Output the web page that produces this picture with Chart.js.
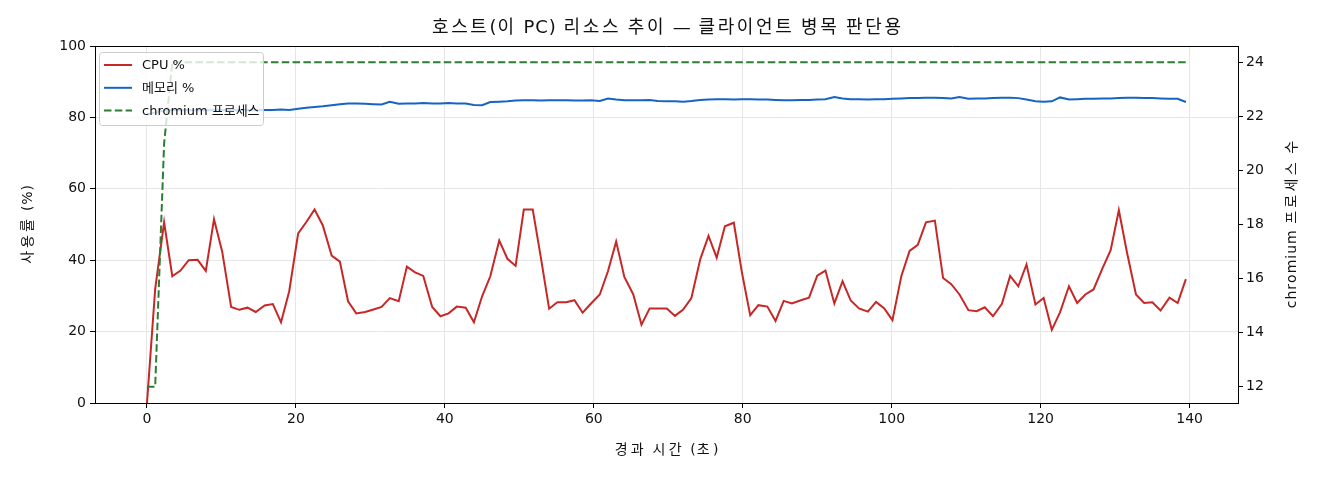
<!DOCTYPE html>
<html lang="ko">
<head>
<meta charset="utf-8">
<title>호스트 리소스 추이</title>
<script src="https://cdn.jsdelivr.net/npm/chart.js@4"></script>
<style>
    html, body { margin: 0; padding: 0; background: #fff; }
    #wrap { width: 1320px; height: 480px; position: relative; }
</style>
</head>
<body>
<div id="wrap"><canvas id="host-chart"></canvas></div>
<script>
// Host resource trend

// elapsed seconds of each sample
const times = [
    0, 1.1, 2.3, 3.4, 4.5, 5.6, 6.8, 7.9, 9.0, 10.1,
    11.3, 12.4, 13.5, 14.6, 15.8, 16.9, 18.0, 19.1, 20.3, 21.4,
    22.5, 23.6, 24.8, 25.9, 27.0, 28.1, 29.3, 30.4, 31.5, 32.6,
    33.8, 34.9, 36.0, 37.1, 38.3, 39.4, 40.5, 41.6, 42.8, 43.9,
    45.0, 46.1, 47.3, 48.4, 49.5, 50.6, 51.8, 52.9, 54.0, 55.1,
    56.3, 57.4, 58.5, 59.6, 60.8, 61.9, 63.0, 64.1, 65.3, 66.4,
    67.5, 68.6, 69.8, 70.9, 72.0, 73.1, 74.3, 75.4, 76.5, 77.6,
    78.8, 79.9, 81.0, 82.1, 83.3, 84.4, 85.5, 86.6, 87.8, 88.9,
    90.0, 91.1, 92.3, 93.4, 94.5, 95.6, 96.8, 97.9, 99.0, 100.1,
    101.3, 102.4, 103.5, 104.6, 105.8, 106.9, 108.0, 109.1, 110.3, 111.4,
    112.5, 113.6, 114.8, 115.9, 117.0, 118.1, 119.3, 120.4, 121.5, 122.6,
    123.8, 124.9, 126.0, 127.1, 128.3, 129.4, 130.5, 131.6, 132.8, 133.9,
    135.0, 136.1, 137.3, 138.4, 139.5
];

const cpuPercent = [
    0, 31.9, 50.6, 35.5, 37.1, 40.0, 40.1, 37.0, 51.5, 42.4,
    26.9, 26.1, 26.7, 25.5, 27.3, 27.7, 22.6, 31.3, 47.5, 50.7,
    54.2, 49.8, 41.3, 39.6, 28.5, 25.1, 25.5, 26.2, 26.9, 29.4,
    28.5, 38.2, 36.6, 35.6, 26.9, 24.3, 25.1, 27.0, 26.7, 22.6,
    29.9, 35.5, 45.5, 40.4, 38.4, 54.2, 54.2, 40.6, 26.4, 28.2,
    28.2, 28.8, 25.3, 27.8, 30.4, 36.9, 45.2, 35.3, 30.4, 21.9,
    26.5, 26.5, 26.5, 24.4, 26.2, 29.4, 40.3, 46.8, 40.7, 49.5,
    50.5, 36.4, 24.6, 27.4, 27.0, 23.0, 28.6, 27.9, 28.8, 29.5,
    35.7, 37.1, 27.9, 34.1, 28.7, 26.5, 25.6, 28.3, 26.5, 23.2,
    35.6, 42.6, 44.3, 50.6, 51.1, 35.0, 33.3, 30.4, 26.0, 25.7,
    26.8, 24.3, 27.8, 35.6, 32.7, 38.8, 27.6, 29.4, 20.5, 25.4,
    32.7, 28.0, 30.4, 31.8, 37.7, 42.8, 54.0, 42.1, 30.4, 28.0,
    28.2, 25.9, 29.5, 28.0, 34.7
];

const memPercent = [
    80.8, 81.4, 81.9, 82.0, 82.1, 82.0, 82.0, 82.1, 82.0, 82.0,
    82.1, 82.0, 82.1, 82.0, 82.1, 82.1, 82.2, 82.1, 82.4, 82.7,
    82.9, 83.1, 83.4, 83.7, 83.9, 83.9, 83.8, 83.7, 83.6, 84.4,
    83.8, 83.9, 83.9, 84.0, 83.9, 83.9, 84.0, 83.9, 83.9, 83.5,
    83.4, 84.3, 84.4, 84.5, 84.7, 84.8, 84.8, 84.7, 84.8, 84.8,
    84.8, 84.7, 84.7, 84.8, 84.6, 85.3, 85.0, 84.8, 84.8, 84.8,
    84.9, 84.6, 84.5, 84.5, 84.4, 84.6, 84.9, 85.0, 85.1, 85.1,
    85.0, 85.1, 85.1, 85.0, 85.0, 84.9, 84.8, 84.8, 84.9, 84.9,
    85.0, 85.1, 85.7, 85.3, 85.1, 85.1, 85.0, 85.1, 85.1, 85.2,
    85.3, 85.4, 85.4, 85.5, 85.5, 85.4, 85.3, 85.7, 85.2, 85.3,
    85.3, 85.4, 85.5, 85.5, 85.4, 85.0, 84.5, 84.4, 84.5, 85.6,
    85.0, 85.1, 85.2, 85.2, 85.3, 85.3, 85.4, 85.5, 85.5, 85.4,
    85.4, 85.3, 85.2, 85.2, 84.3
];

const chromiumCount = [
    12, 12, 21, 24, 24, 24, 24, 24, 24, 24,
    24, 24, 24, 24, 24, 24, 24, 24, 24, 24,
    24, 24, 24, 24, 24, 24, 24, 24, 24, 24,
    24, 24, 24, 24, 24, 24, 24, 24, 24, 24,
    24, 24, 24, 24, 24, 24, 24, 24, 24, 24,
    24, 24, 24, 24, 24, 24, 24, 24, 24, 24,
    24, 24, 24, 24, 24, 24, 24, 24, 24, 24,
    24, 24, 24, 24, 24, 24, 24, 24, 24, 24,
    24, 24, 24, 24, 24, 24, 24, 24, 24, 24,
    24, 24, 24, 24, 24, 24, 24, 24, 24, 24,
    24, 24, 24, 24, 24, 24, 24, 24, 24, 24,
    24, 24, 24, 24, 24, 24, 24, 24, 24, 24,
    24, 24, 24, 24, 24
];

const seriesLabels = ['CPU %', '메모리 %', 'chromium 프로세스'];
const chartTitle = '호스트(이 PC) 리소스 추이 — 클라이언트 병목 판단용';
const xTitle = '경과 시간 (초)';
const yTitle = '사용률 (%)';
const y2Title = 'chromium 프로세스 수';

// latin glyphs from DejaVu, hangul falls back to Noto CJK
const FONT = "'DejaVu Sans', 'Noto Sans CJK KR', sans-serif";
const COLORS = {
    cpu: '#c62828',
    mem: '#1565c0',
    chromium: '#2e7d32',
    grid: '#e6e6e6',
    text: '#111111'
};

Chart.defaults.font.family = FONT;
Chart.defaults.color = COLORS.text;

function toPoints(values) {
    return values.map((v, i) => ({ x: times[i], y: v }));
}

function isHangul(ch) {
    const c = ch.charCodeAt(0);
    return c >= 0xAC00 && c <= 0xD7A3;
}

// the reference font sets hangul wider than Noto CJK, so hangul gets extra room
function spacedText(ctx, text, x, y, size, hangulGap, otherGap, angle) {
    ctx.save();
    ctx.translate(x, y);
    if (angle) ctx.rotate(angle);
    ctx.font = size + 'px ' + FONT;
    ctx.fillStyle = COLORS.text;
    ctx.textAlign = 'left';
    ctx.textBaseline = 'middle';

    const chars = Array.from(text);
    const widths = chars.map((ch, i) => {
        const gap = i === chars.length - 1 ? 0 : (isHangul(ch) ? hangulGap : otherGap);
        return ctx.measureText(ch).width + gap;
    });
    let cx = -widths.reduce((a, b) => a + b, 0) / 2;
    chars.forEach((ch, i) => {
        ctx.fillText(ch, cx, 0);
        cx += widths[i];
    });
    ctx.restore();
}

// matplotlib style legend box inside the plot, drawn above the lines
const boxLegend = {
    id: 'boxLegend',
    afterDatasetsDraw(chart) {
        const { ctx, chartArea } = chart;
        const x = chartArea.left + 4;
        const y = chartArea.top + 6;
        const w = 164;
        const h = 73;

        ctx.save();
        ctx.beginPath();
        ctx.roundRect(x + 0.5, y + 0.5, w, h, 3);
        ctx.fillStyle = 'rgba(255,255,255,0.8)';
        ctx.fill();
        ctx.strokeStyle = '#cccccc';
        ctx.lineWidth = 1;
        ctx.stroke();

        ctx.font = '13px ' + FONT;
        ctx.textBaseline = 'middle';
        ctx.textAlign = 'left';
        chart.data.datasets.forEach((ds, i) => {
            const rowY = y + 13 + i * 22.8;
            ctx.beginPath();
            ctx.setLineDash(ds.borderDash || []);
            ctx.strokeStyle = ds.borderColor;
            ctx.lineWidth = 2;
            ctx.moveTo(x + 5, rowY);
            ctx.lineTo(x + 33, rowY);
            ctx.stroke();
            ctx.setLineDash([]);
            ctx.fillStyle = COLORS.text;
            ctx.fillText(ds.label, x + 43, rowY + 1);
        });
        ctx.restore();
    }
};

// top spine plus the chart and axis titles
const frameAndTitles = {
    id: 'frameAndTitles',
    afterDraw(chart) {
        const { ctx, chartArea } = chart;
        const midX = (chartArea.left + chartArea.right) / 2;
        const midY = (chartArea.top + chartArea.bottom) / 2;

        ctx.save();
        ctx.strokeStyle = '#000';
        ctx.lineWidth = 1;
        ctx.beginPath();
        ctx.moveTo(chartArea.left, chartArea.top + 0.5);
        ctx.lineTo(chartArea.right, chartArea.top + 0.5);
        ctx.stroke();
        ctx.restore();

        spacedText(ctx, chartTitle, midX, 28, 18, 2.6, 1.0);
        spacedText(ctx, xTitle, midX, 450, 14, 3.3, 1.0);
        spacedText(ctx, yTitle, 28, midY, 14, 3.0, 0.8, -Math.PI / 2);
        spacedText(ctx, y2Title, chartArea.right + 54, midY, 14, 3.3, 1.0, -Math.PI / 2);
    }
};

const ctx = document.getElementById('host-chart').getContext('2d');

new Chart(ctx, {
    type: 'line',
    data: {
        datasets: [
            {
                label: seriesLabels[0],
                data: toPoints(cpuPercent),
                yAxisID: 'y',
                borderColor: COLORS.cpu,
                borderWidth: 2,
                order: 2
            },
            {
                label: seriesLabels[1],
                data: toPoints(memPercent),
                yAxisID: 'y',
                borderColor: COLORS.mem,
                borderWidth: 2,
                order: 1
            },
            {
                label: seriesLabels[2],
                data: toPoints(chromiumCount),
                yAxisID: 'y2',
                borderColor: COLORS.chromium,
                borderWidth: 2,
                borderDash: [7.5, 3.3],
                order: 0
            }
        ]
    },
    options: {
        responsive: true,
        maintainAspectRatio: false,
        animation: false,
        layout: { padding: { top: 46, left: 0, right: 0, bottom: 0 } },
        elements: {
            point: { radius: 0 },
            line: { tension: 0, fill: false }
        },
        plugins: {
            legend: { display: false },
            tooltip: { enabled: false },
            title: { display: false }
        },
        scales: {
            x: {
                type: 'linear',
                min: -6.98,
                max: 146.5,
                afterFit: (scale) => { scale.height = 77; },
                ticks: { stepSize: 20, includeBounds: false, padding: 3, font: { size: 14 } },
                grid: { color: COLORS.grid, tickColor: '#000', tickLength: 5 },
                border: { color: '#000', width: 1 }
            },
            y: {
                position: 'left',
                min: 0,
                max: 100,
                afterFit: (scale) => { scale.width = 95; },
                ticks: { stepSize: 20, padding: 4, font: { size: 14 } },
                grid: { color: COLORS.grid, tickColor: '#000', tickLength: 5 },
                border: { color: '#000', width: 1 }
            },
            y2: {
                position: 'right',
                min: 11.4,
                max: 24.6,
                afterFit: (scale) => { scale.width = 82; },
                ticks: { stepSize: 2, includeBounds: false, padding: 3, font: { size: 14 } },
                grid: { drawOnChartArea: false, tickColor: '#000', tickLength: 5 },
                border: { color: '#000', width: 1 }
            }
        }
    },
    plugins: [boxLegend, frameAndTitles]
});
</script>
</body>
</html>
